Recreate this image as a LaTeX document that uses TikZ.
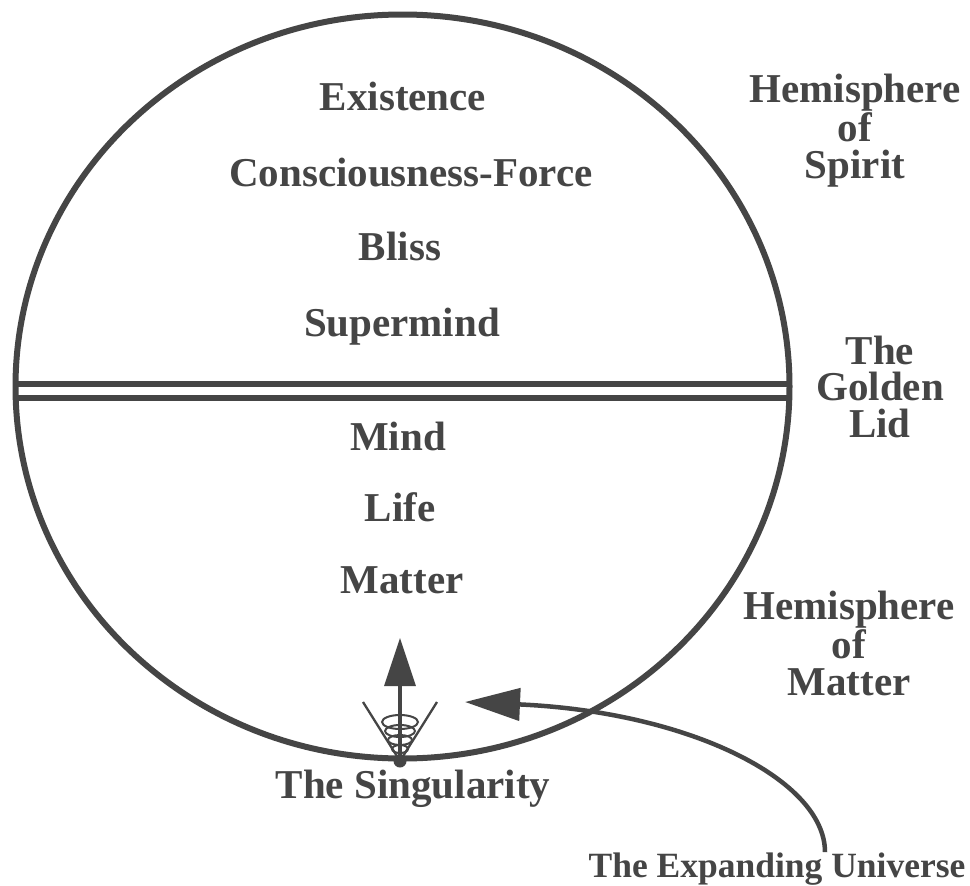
\documentclass[tikz,border=0pt]{standalone}
\usepackage{fontspec}
\setmainfont{Liberation Serif}
\usetikzlibrary{arrows.meta}
\definecolor{ink}{gray}{0.27}
\begin{document}
\begin{tikzpicture}[x=1pt,y=-1pt,
  lbl/.style={font=\fontsize{41}{36.5}\selectfont\bfseries, text=ink, inner sep=0pt, align=center},
  smalllbl/.style={font=\fontsize{35.5}{36}\selectfont\bfseries, text=ink, inner sep=0pt},
  rim/.style={draw=ink, line width=6pt},
  thinline/.style={draw=ink, line width=2.3pt},
  ring/.style={draw=ink, line width=2pt},
]
\fill[white] (0,0) rectangle (970,886);
\useasboundingbox (0,0) rectangle (970,886);

% the sphere
\coordinate (c) at (402.5,386.5);
\draw[rim] (c) ellipse [x radius=387pt, y radius=372pt];

% the golden lid
\coordinate (lidAL) at (15.5,384);
\coordinate (lidAR) at (789.5,384);
\coordinate (lidBL) at (15.5,398);
\coordinate (lidBR) at (789.5,398);
\draw[rim] (lidAL) -- (lidAR);
\draw[rim] (lidBL) -- (lidBR);

% labels inside
\node[lbl, anchor=base] (existence) at (403,110) {Existence};
\node[lbl, anchor=base] (cforce) at (411,186) {Consciousness-Force};
\node[lbl, anchor=base] (bliss) at (400,260) {Bliss};
\node[lbl, anchor=base] (supermind) at (402,336) {Supermind};
\node[lbl, anchor=base] (mind) at (398,450) {Mind};
\node[lbl, anchor=base] (life) at (400,521) {Life};
\node[lbl, anchor=base] (matter) at (402,593) {Matter};

% labels outside (base = last line)
\node[lbl, anchor=base] (spirit) at (855,178) {Hemisphere\\of\\Spirit};
\node[lbl, anchor=base] (lid) at (880,437) {The\\Golden\\Lid};
\node[lbl, anchor=base] (hmatter) at (849,695) {Hemisphere\\of\\Matter};
\node[lbl, anchor=base] (singlabel) at (413,798) {The Singularity};
\node[smalllbl, anchor=base] (expanding) at (777,877) {The Expanding Universe};

% the singularity
\node[circle, fill=ink, minimum size=13pt, inner sep=0pt] (sing) at (400,761) {};
\coordinate (vL) at (363,702);
\coordinate (vR) at (437,702);
\draw[thinline] (vL) -- (sing.center) -- (vR);
\draw[ring] (400,722) ellipse [x radius=18pt, y radius=7pt];
\draw[ring] (400,731) ellipse [x radius=15pt, y radius=6pt];
\draw[ring] (400,740) ellipse [x radius=12pt, y radius=5pt];
\draw[ring] (400,749) ellipse [x radius=8pt, y radius=4pt];
\coordinate (upTip) at (400,638);
\draw[ink, line width=3.5pt, -{Triangle[length=48pt,width=31pt]}] (sing.center) -- (upTip);

% the expanding universe arrow
\coordinate (expTip) at (465,702);
\draw[ink, line width=4.5pt, -{Triangle[length=55pt,width=32pt]}]
  ([xshift=48pt]expanding.north) .. controls (825,780) and (690,712) .. (expTip);
\end{tikzpicture}
\end{document}
